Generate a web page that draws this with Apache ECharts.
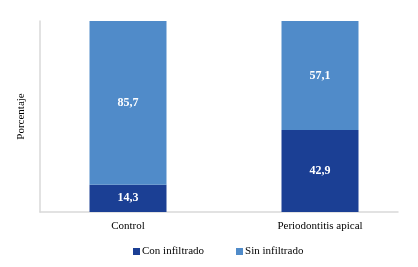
<!DOCTYPE html>
<html>
<head>
<meta charset="utf-8">
<script src="https://cdn.jsdelivr.net/npm/echarts@6/dist/echarts.min.js"></script>
<style>
  html, body { margin: 0; padding: 0; background: #fff; }
  #chart { width: 418px; height: 267px; }
</style>
</head>
<body>
<div id="chart"></div>
<script>
// datos
const categories = ['Control', 'Periodontitis apical'];
const conInfiltrado = [14.3, 42.9];
const sinInfiltrado = [85.7, 57.1];

const font = 'Liberation Serif';
const fmt = p => p.value.toFixed(1).replace('.', ',');

const chart = echarts.init(document.getElementById('chart'));

chart.setOption({
  animation: false,
  textStyle: { fontFamily: font },
  legend: {
    data: ['Con infiltrado', 'Sin infiltrado'],
    left: 128,
    top: 241,
    icon: 'rect',
    itemWidth: 7,
    itemHeight: 7,
    itemGap: 32,
    textStyle: { fontFamily: font, fontSize: 11, color: '#000', padding: [0, 0, 0, -3] }
  },
  grid: [
    // barras
    { left: 32, right: 2, top: 21, bottom: 55 },
    // solo lineas de ejes
    { left: 40, right: 20, top: 21, bottom: 55 }
  ],
  xAxis: [
    {
      type: 'category',
      gridIndex: 0,
      data: categories,
      axisLine: { show: false },
      axisTick: { show: false },
      axisLabel: { margin: 9, fontFamily: font, fontSize: 11, color: '#000' }
    },
    {
      type: 'category',
      gridIndex: 1,
      data: categories,
      axisLine: { show: true, lineStyle: { color: '#d9d9d9', width: 1.5 } },
      axisTick: { show: false },
      axisLabel: { show: false }
    }
  ],
  yAxis: [
    {
      type: 'value',
      gridIndex: 0,
      min: 0,
      max: 100,
      axisLabel: { show: false },
      splitLine: { show: false },
      axisLine: { show: false }
    },
    {
      type: 'value',
      gridIndex: 1,
      min: 0,
      max: 100,
      name: 'Porcentaje',
      nameLocation: 'middle',
      nameGap: 13,
      nameTextStyle: { fontFamily: font, fontSize: 11, color: '#000' },
      axisLabel: { show: false },
      splitLine: { show: false },
      axisLine: { show: true, lineStyle: { color: '#d9d9d9', width: 1.5 } }
    }
  ],
  series: [
    {
      name: 'Con infiltrado',
      type: 'bar',
      stack: 'total',
      barWidth: 77,
      data: conInfiltrado,
      itemStyle: { color: '#1b3f94' },
      label: {
        show: true,
        formatter: fmt,
        color: '#fff',
        fontWeight: 'bold',
        fontFamily: font,
        fontSize: 12
      }
    },
    {
      name: 'Sin infiltrado',
      type: 'bar',
      stack: 'total',
      barWidth: 77,
      data: sinInfiltrado,
      itemStyle: { color: '#508bc9' },
      label: {
        show: true,
        formatter: fmt,
        color: '#fff',
        fontWeight: 'bold',
        fontFamily: font,
        fontSize: 12
      }
    }
  ]
});
</script>
</body>
</html>
